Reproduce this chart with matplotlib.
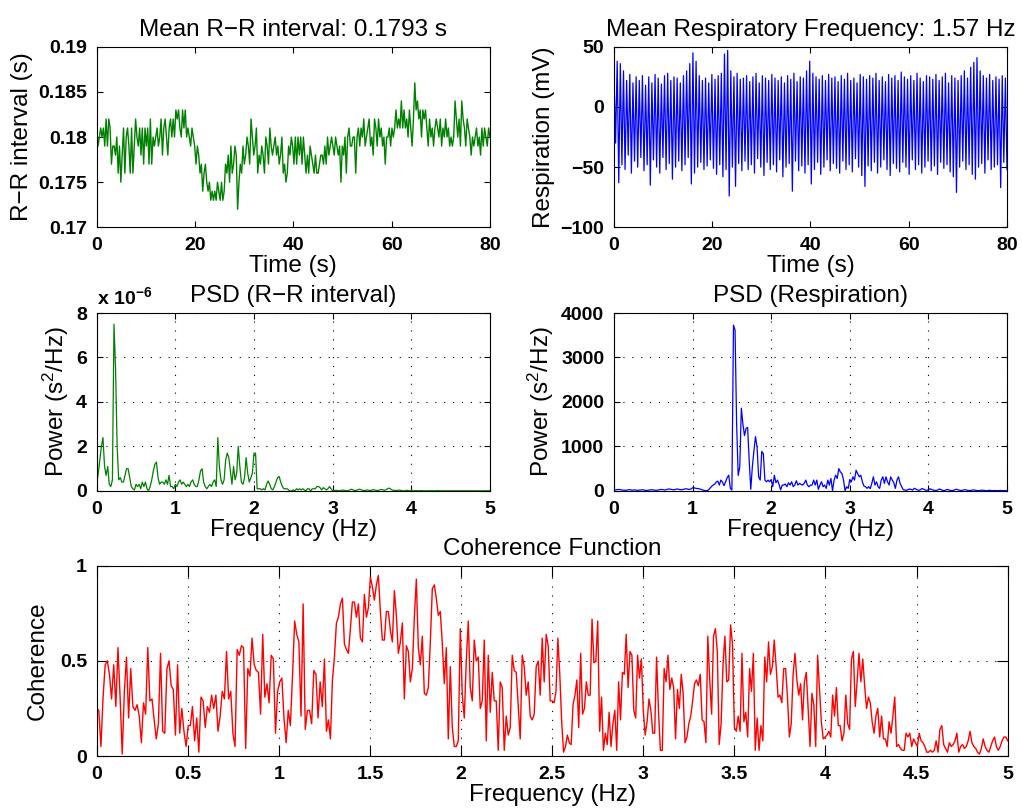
import numpy as np
import matplotlib.pyplot as plt
from matplotlib.ticker import FormatStrFormatter

plt.rcParams['font.family'] = ['Liberation Sans', 'DejaVu Sans']
plt.rcParams['mathtext.fontset'] = 'custom'
plt.rcParams['mathtext.rm'] = 'Liberation Sans'
plt.rcParams['mathtext.it'] = 'Liberation Sans:italic'
plt.rcParams['mathtext.bf'] = 'Liberation Sans:bold'

LABEL_SIZE = 17.5
TICK_SIZE = 14
GREEN = (0, 0.5, 0)
BLUE = (0, 0, 1)
RED = (1, 0, 0)

# R-R intervals in ms, 0-80 s
rr_ms = [181, 179, 180, 181, 180,
         181, 179, 182, 179, 182, 181, 177,
         179, 179, 178, 180, 176, 179, 175,
         178, 181, 176, 180, 181, 179, 176,
         181, 176, 179, 182, 180, 179, 181, 178,
         181, 177, 181, 179, 181, 177, 182, 177, 180, 179,
         180, 181, 179, 180, 182, 178, 181, 182, 180, 178, 181, 182, 180,
         182, 180, 183,
         182, 183, 181, 180, 183, 181, 183, 180,
         181, 180, 179, 181, 180,
         179, 177, 179, 178, 176, 177, 174,
         176, 177, 175, 174, 175, 173, 174, 173,
         174, 173, 175, 174, 173, 175, 173, 174,
         177, 176, 178, 175, 179, 176, 177, 179,
         178, 172, 175, 177, 176,
         179, 177, 178, 180, 179, 177, 182, 180,
         178, 179, 181, 176, 178, 177, 179, 178, 176,
         180, 179, 177, 181, 179, 178, 179, 180, 178,
         179, 177, 178, 180, 176, 177, 175, 176, 179, 178, 180, 179, 177,
         180, 177, 180, 178, 180, 177, 180,
         178, 176, 178, 176, 179, 178, 177, 176,
         178, 176, 176, 177, 178, 178, 177,
         179, 177, 180, 178, 179, 180, 179, 178,
         180, 179, 178, 179, 175, 179, 178, 180, 176, 180,
         181, 179, 179, 180, 180, 176,
         180, 181, 179, 181, 180, 182, 179, 180,
         181, 182, 179, 180, 178, 182, 181, 179,
         182, 180, 181, 179, 180, 177,
         180, 180, 181, 179, 181, 180,
         181, 183, 181, 182, 181, 184, 181,
         183, 181, 182, 180, 183, 181, 179,
         182, 186, 183, 184, 182, 183, 180,
         183, 182, 183, 181, 179, 182, 180,
         181, 179, 181, 182, 181, 180, 182, 179,
         181, 180, 182, 180, 181, 179, 180, 179,
         180, 184, 182, 180, 182, 179, 184,
         182, 181, 179, 182, 181, 180, 178,
         180, 179, 180, 181, 179, 180, 178, 181,
         179, 181, 180, 179, 181, 180]

# respiration: top and bottom of each breath (mV)
resp_peaks = [25, 38, 36, 30, 22, 27, 20, 25, 22, 26,
              18, 25, 20, 27, 24, 19, 26, 28, 22, 25,
              24, 20, 26, 30, 36, 45, 38, 26, 22, 24,
              20, 27, 23, 26, 28, 44, 47, 30, 25, 28,
              23, 24, 26, 21, 25, 28, 20, 26, 24, 22,
              27, 24, 22, 25, 20, 26, 23, 28, 21, 25,
              24, 30, 38, 28, 25, 23, 26, 22, 27, 24,
              25, 21, 26, 23, 28, 22, 24, 20, 27, 25,
              23, 26, 24, 28, 22, 25, 21, 27, 24, 26,
              22, 29, 25, 23, 26, 22, 28, 24, 21, 26,
              25, 23, 27, 22, 25, 28, 20, 26, 24, 22,
              26, 30, 24, 33, 37, 41, 30, 26, 24, 27,
              22, 25, 23, 26, 24]
resp_troughs = [-30, -63, -48, -52, -40, -55, -45, -50, -42, -53,
                -48, -65, -44, -50, -55, -42, -52, -47, -60, -50,
                -45, -53, -48, -42, -64, -55, -50, -46, -52, -49,
                -44, -51, -56, -48, -58, -52, -74, -50, -66, -47,
                -53, -45, -52, -48, -55, -43, -50, -57, -46, -52,
                -48, -54, -44, -58, -50, -47, -70, -45, -53, -49,
                -55, -48, -64, -52, -46, -56, -50, -44, -53, -47,
                -51, -55, -45, -52, -48, -54, -43, -50, -57, -66,
                -49, -53, -46, -55, -50, -44, -52, -57, -47, -51,
                -54, -46, -50, -56, -44, -52, -48, -55, -50, -45,
                -53, -49, -56, -46, -51, -48, -54, -58, -71, -50,
                -45, -52, -48, -56, -60, -50, -47, -55, -44, -52,
                -50, -48, -67, -46, -52]

# PSD of R-R interval, units of 1e-6 s^2/Hz, 0-5 Hz
psd_rr = [0.3, 0.8, 1.4, 2.0, 2.4, 1.1, 0.7, 1.1, 0.3, 0.2,
          0.5, 7.5, 5.5, 2.0, 0.5, 0.6, 0.4, 0.4, 0.7, 1.0,
          1.0, 0.6, 0.2, 0.1, 0.05, 0.3, 0.2, 0.3, 0.1, 0.4,
          0.2, 0.4, 0.1, 0.0, 0.2, 0.5, 0.9, 1.2, 1.3, 0.6,
          0.3, 0.4, 0.4, 0.3, 0.5, 0.3, 0.7, 0.2, 0.2, 0.1,
          0.3, 0.2, 0.4, 0.5, 0.3, 0.4, 0.3, 0.2, 0.3, 0.2,
          0.4, 0.5, 0.3, 0.2, 0.2, 0.5, 0.9, 1.0, 0.4, 0.2,
          0.1, 0.2, 0.3, 0.2, 0.4, 0.5, 0.2, 2.4, 1.1, 0.5,
          0.3, 0.5, 1.4, 1.7, 1.5, 0.9, 0.3, 1.1, 0.5, 0.8,
          2.0, 1.1, 0.4, 0.3, 0.6, 1.5, 0.8, 0.4, 0.6, 0.8,
          1.7, 1.7, 0.1, 0.1, 0.1, 0.05, 0.1, 0.05, 0.3, 0.45,
          0.3, 0.1, 0.05, 0.2, 0.4, 0.6, 0.65, 0.4, 0.2, 0.1,
          0.1, 0.1, 0.05, 0.0, 0.0, 0.05, 0.0, 0.1, 0.05, 0.1,
          0.05, 0.1, 0.05, 0.0, 0.1, 0.1, 0.0, 0.1, 0.1, 0.1,
          0.2, 0.2, 0.15, 0.05, 0.15, 0.1, 0.05, 0.1, 0.2, 0.1,
          0.0, 0.02, 0.03, 0.02, 0.01, 0.02, 0.04, 0.03, 0.02, 0.01,
          0.02, 0.05, 0.08, 0.05, 0.02, 0.03, 0.05, 0.08, 0.06, 0.03,
          0.02, 0.03, 0.05, 0.03, 0.02, 0.04, 0.06, 0.04, 0.02, 0.03,
          0.05, 0.07, 0.05, 0.03, 0.06, 0.1, 0.13, 0.08, 0.04, 0.02,
          0.03, 0.02, 0.04, 0.03, 0.02, 0.01, 0.02, 0.03, 0.02, 0.01,
          0.02, 0.01, 0.01, 0.02, 0.01, 0.01, 0.02, 0.01, 0.01, 0.01,
          0.01, 0.01, 0.02, 0.01, 0.01, 0.01, 0.01, 0.02, 0.01, 0.01,
          0.01, 0.01, 0.01, 0.01, 0.01, 0.01, 0.01, 0.01, 0.01, 0.01,
          0.01, 0.01, 0.01, 0.01, 0.01, 0.01, 0.01, 0.01, 0.01, 0.01,
          0.01, 0.01, 0.01, 0.01, 0.01, 0.01, 0.01, 0.01, 0.01, 0.01,
          0.01]

# PSD of respiration, mV^2/Hz, 0-5 Hz
psd_resp = [20, 25, 30, 35, 28, 22, 18, 15, 20, 25,
            30, 22, 18, 25, 20, 15, 18, 22, 28, 20,
            15, 12, 18, 25, 30, 22, 18, 15, 20, 28,
            35, 30, 22, 25, 40, 45, 38, 30, 25, 35,
            45, 40, 30, 28, 35, 45, 50, 40, 35, 45,
            74, 70, 60, 55, 50, 40, 30, 15, 7, 7,
            20, 59, 100, 133, 150, 200, 222, 133, 245, 200,
            120, 207, 300, 355, 59, 22, 3727, 3616, 1500, 350,
            540, 1860, 1504, 1245, 1408, 1430, 690, 37, 540, 900,
            1222, 985, 318, 245, 890, 837, 245, 207, 245, 207,
            259, 96, 355, 185, 245, 148, 22, 133, 133, 155,
            96, 185, 133, 207, 96, 133, 230, 133, 170, 148,
            133, 170, 245, 133, 96, 133, 133, 245, 133, 245,
            37, 133, 207, 96, 133, 59, 245, 133, 281, 7,
            245, 355, 281, 503, 429, 392, 245, 7, 96, 59,
            259, 207, 318, 245, 466, 392, 318, 355, 207, 111,
            96, 59, 96, 52, 170, 318, 133, 207, 96, 59,
            245, 318, 170, 318, 207, 133, 318, 245, 185, 59,
            245, 318, 170, 96, 30, 22, 15, 30, 45, 35,
            20, 60, 45, 25, 15, 30, 55, 40, 20, 15,
            25, 50, 35, 20, 15, 10, 25, 45, 30, 15,
            10, 20, 35, 25, 12, 10, 15, 30, 40, 25,
            15, 10, 20, 30, 22, 15, 10, 12, 20, 25,
            15, 10, 8, 12, 20, 15, 10, 8, 12, 15,
            10, 8, 12, 10, 8, 10, 12, 8, 10, 8, 10]

# coherence, in four bands of 1.25 Hz
coh_band1 = [0.25, 0.24, 0.05, 0.31, 0.48, 0.50, 0.43, 0.30, 0.48, 0.26,
             0.57, 0.31, 0.01, 0.34, 0.52, 0.20, 0.46, 0.26, 0.24, 0.27,
             0.21, 0.07, 0.28, 0.22, 0.57, 0.29, 0.30, 0.19, 0.09, 0.17,
             0.54, 0.13, 0.12, 0.46, 0.50, 0.37, 0.35, 0.11, 0.48, 0.12,
             0.25, 0.13, 0.05, 0.16, 0.16, 0.26, 0.08, 0.20, 0.02, 0.31,
             0.29, 0.15, 0.26, 0.23, 0.32, 0.25, 0.32, 0.13, 0.21, 0.34,
             0.30, 0.55, 0.30, 0.34, 0.12, 0.05, 0.56, 0.53, 0.58, 0.57,
             0.04, 0.46, 0.42, 0.62, 0.48, 0.45, 0.44, 0.22, 0.64, 0.31,
             0.38, 0.28, 0.53, 0.51, 0.12, 0.34, 0.39, 0.41, 0.20, 0.07,
             0.24, 0.16, 0.42, 0.71, 0.64, 0.60, 0.21, 0.80, 0.14, 0.24,
             0.24, 0.17, 0.45, 0.43, 0.20, 0.39, 0.26]
coh_band2 = [0.51, 0.13, 0.19, 0.09, 0.40, 0.52, 0.70, 0.73, 0.80, 0.83,
             0.59, 0.56, 0.54, 0.67, 0.81, 0.81, 0.73, 0.80, 0.62, 0.60,
             0.85, 0.73, 0.78, 0.94, 0.89, 0.82, 0.90, 0.95, 0.76, 0.61,
             0.61, 0.76, 0.76, 0.66, 0.60, 0.87, 0.74, 0.54, 0.60, 0.70,
             0.30, 0.58, 0.55, 0.39, 0.46, 0.73, 0.93, 0.57, 0.48, 0.63,
             0.33, 0.32, 0.36, 0.60, 0.88, 0.90, 0.83, 0.74, 0.76, 0.59,
             0.38, 0.57, 0.09, 0.47, 0.15, 0.05, 0.05, 0.08, 0.67, 0.32,
             0.20, 0.50, 0.71, 0.36, 0.29, 0.61, 0.50, 0.52, 0.25, 0.29,
             0.61, 0.08, 0.53, 0.23, 0.44, 0.29, 0.29, 0.03, 0.39, 0.36,
             0.03, 0.21, 0.11, 0.15, 0.53, 0.45, 0.44, 0.26, 0.09, 0.53,
             0.47, 0.32, 0.39, 0.21, 0.19, 0.22, 0.47, 0.50, 0.32, 0.62,
             0.39, 0.64, 0.58, 0.29]
coh_band3 = [0.29, 0.28, 0.34, 0.62, 0.43, 0.18, 0.02, 0.05, 0.11, 0.07,
             0.06, 0.27, 0.32, 0.40, 0.15, 0.54, 0.22, 0.25, 0.39, 0.32,
             0.32, 0.72, 0.49, 0.50, 0.71, 0.13, 0.31, 0.03, 0.12, 0.06,
             0.23, 0.05, 0.17, 0.24, 0.03, 0.39, 0.19, 0.44, 0.43, 0.64,
             0.36, 0.55, 0.53, 0.24, 0.20, 0.53, 0.41, 0.51, 0.24, 0.11,
             0.18, 0.30, 0.24, 0.12, 0.12, 0.52, 0.24, 0.03, 0.03, 0.46,
             0.39, 0.53, 0.35, 0.41, 0.36, 0.09, 0.35, 0.25, 0.43, 0.33,
             0.07, 0.10, 0.17, 0.21, 0.29, 0.38, 0.40, 0.37, 0.43, 0.19,
             0.18, 0.07, 0.63, 0.40, 0.22, 0.63, 0.67, 0.55, 0.06, 0.17,
             0.48, 0.63, 0.39, 0.40, 0.69, 0.59, 0.15, 0.13, 0.21, 0.13,
             0.54, 0.18, 0.23, 0.10, 0.46, 0.34, 0.54, 0.03, 0.20, 0.03,
             0.16, 0.08, 0.52, 0.39, 0.60, 0.43, 0.47, 0.61, 0.47, 0.31]
coh_band4 = [0.32, 0.28, 0.46, 0.46, 0.31, 0.10, 0.17, 0.43, 0.54, 0.40,
             0.32, 0.38, 0.19, 0.39, 0.44, 0.24, 0.05, 0.33, 0.27, 0.05,
             0.53, 0.36, 0.18, 0.09, 0.10, 0.11, 0.13, 0.10, 0.32, 0.21,
             0.36, 0.16, 0.16, 0.08, 0.12, 0.32, 0.17, 0.14, 0.51, 0.55,
             0.26, 0.39, 0.54, 0.39, 0.51, 0.37, 0.25, 0.31, 0.28, 0.18,
             0.12, 0.21, 0.25, 0.10, 0.21, 0.09, 0.09, 0.05, 0.18, 0.12,
             0.21, 0.31, 0.05, 0.06, 0.04, 0.03, 0.03, 0.12, 0.10, 0.12,
             0.05, 0.09, 0.07, 0.05, 0.12, 0.08, 0.07, 0.05, 0.02, 0.02,
             0.03, 0.02, 0.03, 0.08, 0.02, 0.14, 0.16, 0.06, 0.04, 0.02,
             0.07, 0.05, 0.06, 0.08, 0.12, 0.02, 0.05, 0.06, 0.04, 0.05,
             0.08, 0.13, 0.07, 0.05, 0.04, 0.02, 0.01, 0.04, 0.09, 0.05,
             0.03, 0.02, 0.05, 0.08, 0.10, 0.05, 0.03, 0.05, 0.08, 0.10,
             0.10, 0.08]

mean_rr = 0.1793
mean_resp_freq = 1.57


def style_axes(ax, tick_len=4, grid=False):
    ax.tick_params(direction='in', top=True, right=True, length=tick_len,
                   width=0.8, labelsize=TICK_SIZE, pad=7)
    for s in ax.spines.values():
        s.set_linewidth(0.8)
    if grid:
        ax.grid(True, color='k', linestyle=(0, (1, 7)), linewidth=0.8)
    for lab in ax.get_xticklabels() + ax.get_yticklabels():
        lab.set_fontweight('bold')


fig = plt.figure(figsize=(10.22, 8.09), dpi=100)

# R-R interval vs time
ax1 = fig.add_axes([0.0946, 0.719, 0.3848, 0.2232])
t_rr = np.linspace(0, 80, len(rr_ms))
ax1.plot(t_rr, np.array(rr_ms) / 1000.0, color=GREEN, lw=1.0)
ax1.set_xlim(0, 80)
ax1.set_ylim(0.17, 0.19)
ax1.set_xticks([0, 20, 40, 60, 80])
ax1.set_yticks([0.17, 0.175, 0.18, 0.185, 0.19])
ax1.yaxis.set_major_formatter(FormatStrFormatter('%g'))
ax1.set_title('Mean R\u2212R interval: %.4f s' % mean_rr, fontsize=LABEL_SIZE, pad=8)
ax1.set_xlabel('Time (s)', fontsize=LABEL_SIZE, labelpad=1)
ax1.set_ylabel('R\u2212R interval (s)', fontsize=LABEL_SIZE, labelpad=4)
style_axes(ax1)

# respiration vs time
ax2 = fig.add_axes([0.6008, 0.719, 0.3845, 0.2232])
resp = np.empty(2 * len(resp_peaks))
resp[0::2] = resp_peaks
resp[1::2] = resp_troughs
t_resp = np.linspace(0, 80, len(resp))
ax2.plot(t_resp, resp, color=BLUE, lw=0.9)
ax2.set_xlim(0, 80)
ax2.set_ylim(-100, 50)
ax2.set_xticks([0, 20, 40, 60, 80])
ax2.set_yticks([-100, -50, 0, 50])
ax2.set_title('Mean Respiratory Frequency: %.2f Hz' % mean_resp_freq,
              fontsize=LABEL_SIZE, pad=8)
ax2.set_xlabel('Time (s)', fontsize=LABEL_SIZE, labelpad=1)
ax2.set_ylabel('Respiration (mV)', fontsize=LABEL_SIZE, labelpad=4)
style_axes(ax2)

# PSD of R-R interval
ax3 = fig.add_axes([0.0946, 0.3931, 0.3848, 0.22])
f_rr = np.linspace(0, 5, len(psd_rr))
ax3.plot(f_rr, psd_rr, color=GREEN, lw=0.9)
ax3.set_xlim(0, 5)
ax3.set_ylim(0, 8)
ax3.set_xticks([0, 1, 2, 3, 4, 5])
ax3.set_yticks([0, 2, 4, 6, 8])
ax3.set_title('PSD (R\u2212R interval)', fontsize=LABEL_SIZE, pad=8)
ax3.set_xlabel('Frequency (Hz)', fontsize=LABEL_SIZE, labelpad=1)
ax3.set_ylabel('Power (s$^2$/Hz)', fontsize=LABEL_SIZE, labelpad=4)
ax3.text(0, 1.025, r'$\mathbf{x\ 10^{-6}}$', transform=ax3.transAxes,
         fontsize=TICK_SIZE, ha='left', va='bottom')
style_axes(ax3, grid=True)

# PSD of respiration
ax4 = fig.add_axes([0.6008, 0.3931, 0.3845, 0.22])
f_resp = np.linspace(0, 5, len(psd_resp))
ax4.plot(f_resp, psd_resp, color=BLUE, lw=0.9)
ax4.set_xlim(0, 5)
ax4.set_ylim(0, 4000)
ax4.set_xticks([0, 1, 2, 3, 4, 5])
ax4.set_yticks([0, 1000, 2000, 3000, 4000])
ax4.set_title('PSD (Respiration)', fontsize=LABEL_SIZE, pad=8)
ax4.set_xlabel('Frequency (Hz)', fontsize=LABEL_SIZE, labelpad=1)
ax4.set_ylabel('Power (s$^2$/Hz)', fontsize=LABEL_SIZE, labelpad=4)
style_axes(ax4, grid=True)

# coherence
ax5 = fig.add_axes([0.0946, 0.0655, 0.8914, 0.235])
bands = [coh_band1, coh_band2, coh_band3, coh_band4]
f_coh = []
for k, band in enumerate(bands):
    lo, hi = 1.25 * k, 1.25 * (k + 1)
    if k < len(bands) - 1:
        f_coh.append(np.linspace(lo, hi, len(band) + 1)[:-1])
    else:
        f_coh.append(np.linspace(lo, hi, len(band)))
ax5.plot(np.concatenate(f_coh), np.concatenate(bands), color=RED, lw=1.0)
ax5.set_xlim(0, 5)
ax5.set_ylim(0, 1)
ax5.set_xticks(np.arange(0, 5.01, 0.5))
ax5.set_yticks([0, 0.5, 1])
ax5.xaxis.set_major_formatter(FormatStrFormatter('%g'))
ax5.yaxis.set_major_formatter(FormatStrFormatter('%g'))
ax5.set_title('Coherence Function', fontsize=LABEL_SIZE, pad=8)
ax5.set_xlabel('Frequency (Hz)', fontsize=LABEL_SIZE, labelpad=1)
ax5.set_ylabel('Coherence', fontsize=LABEL_SIZE, labelpad=8)
style_axes(ax5, tick_len=8, grid=True)

fig.savefig('out.png', dpi=100)
